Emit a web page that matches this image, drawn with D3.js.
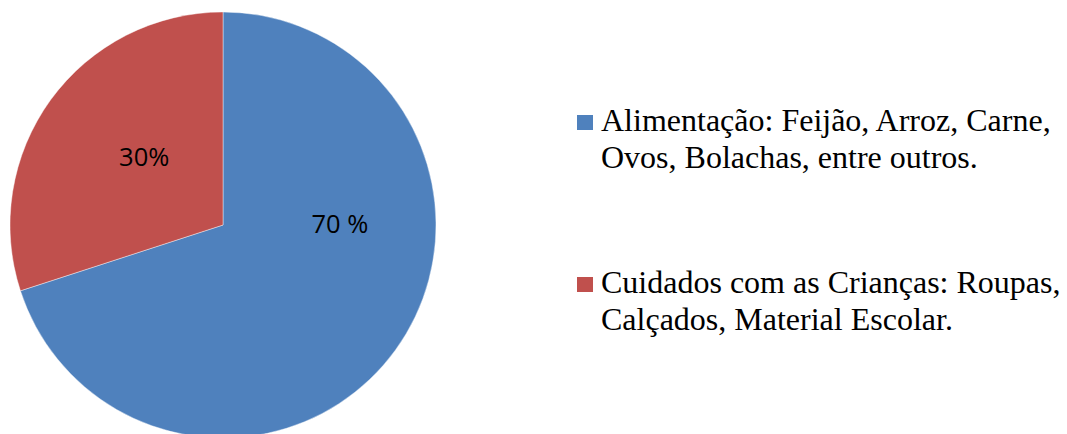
<html>
<head>
<meta charset="utf-8">
<script src="https://d3js.org/d3.v7.min.js"></script>
<style>
body { margin: 0; background: #fff; }
</style>
</head>
<body>
<div id="chart"><svg width="1067" height="434"></svg></div>
<script>
var categories = ["Alimentação: Feijão, Arroz, Carne, Ovos, Bolachas, entre outros.",
                  "Cuidados com as Crianças: Roupas, Calçados, Material Escolar."];
var legendLines = [["Alimentação: Feijão, Arroz, Carne,", "Ovos, Bolachas, entre outros."],
                   ["Cuidados com as Crianças: Roupas,", "Calçados, Material Escolar."]];
var values = [70, 30];
var valueLabels = ["70 %", "30%"];
var colors = ["#4F81BD", "#C0504D"];

var svg = d3.select("#chart").select("svg");
var cx = 223, cy = 225, radius = 213;

var pie = d3.pie().sort(null).value(function(d) { return d; });
var arc = d3.arc().innerRadius(0).outerRadius(radius);
var labelArc = d3.arc().innerRadius(radius * 0.62).outerRadius(radius * 0.62);

var g = svg.append("g").attr("transform", "translate(" + cx + "," + cy + ")");
var arcs = pie(values);

g.selectAll("path.slice")
  .data(arcs)
  .enter().append("path")
  .attr("class", "slice")
  .attr("d", arc)
  .attr("fill", function(d, i) { return colors[i]; })
  .attr("stroke", "#ffffff")
  .attr("stroke-width", 0.6)
  .attr("stroke-opacity", 0.7);

// data labels (nudged from the centroid like the original)
var labelOffsets = [[10, -79], [28, 10]];
g.selectAll("text.val")
  .data(arcs)
  .enter().append("text")
  .attr("class", "val")
  .attr("x", function(d, i) { return labelArc.centroid(d)[0] + labelOffsets[i][0]; })
  .attr("y", function(d, i) { return labelArc.centroid(d)[1] + labelOffsets[i][1]; })
  .attr("dy", "0.35em")
  .attr("text-anchor", "middle")
  .attr("font-family", "'Open Sans', 'Liberation Sans', sans-serif")
  .attr("font-size", "25.5px")
  .attr("fill", "#000")
  .text(function(d, i) { return valueLabels[i]; });

// legend
var legendX = 577, legendY = [115, 277];
var legend = svg.selectAll("g.legend")
  .data(categories)
  .enter().append("g")
  .attr("class", "legend")
  .attr("transform", function(d, i) { return "translate(" + legendX + "," + legendY[i] + ")"; });

legend.append("rect")
  .attr("width", 16)
  .attr("height", 15)
  .attr("fill", function(d, i) { return colors[i]; });

legend.append("text")
  .attr("x", 24)
  .attr("y", 16)
  .attr("font-family", "'Liberation Serif', 'Times New Roman', serif")
  .attr("font-size", "32px")
  .attr("fill", "#000")
  .selectAll("tspan")
  .data(function(d, i) { return legendLines[i]; })
  .enter().append("tspan")
  .attr("x", 24)
  .attr("dy", function(d, j) { return j === 0 ? 0 : 37; })
  .text(function(d) { return d; });
</script>
</body>
</html>
